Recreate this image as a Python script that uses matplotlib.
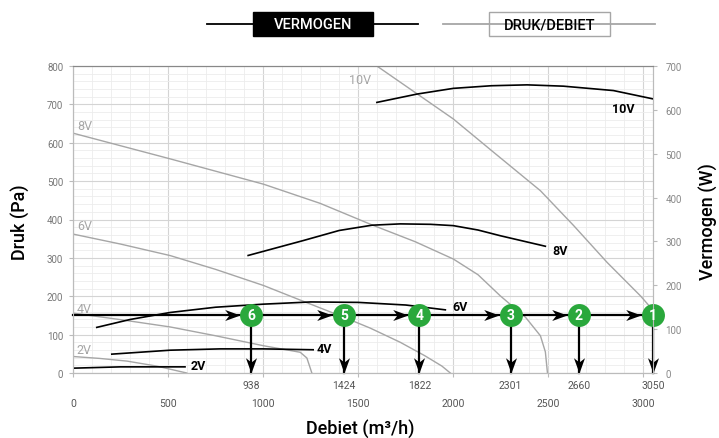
import matplotlib.pyplot as plt
from matplotlib.lines import Line2D
from matplotlib.markers import MarkerStyle
from matplotlib.patches import Rectangle
from matplotlib.path import Path
from matplotlib.transforms import Affine2D

plt.rcParams["font.family"] = ["Roboto", "DejaVu Sans"]

# pressure curves (Pa) per control voltage
druk_2v_x = [0, 140, 284, 440, 598]
druk_2v_y = [43, 38, 31, 18, 0]
druk_4v_x = [0, 250, 511, 750, 1002, 1195, 1230, 1256]
druk_4v_y = [156, 139, 120, 97, 71, 54, 39, 0]
druk_6v_x = [0, 250, 511, 750, 1002, 1195, 1421, 1563, 1721, 1850, 1940, 1984]
druk_6v_y = [362, 336, 306, 270, 228, 190, 146, 117, 80, 45, 18, 0]
druk_8v_x = [0, 511, 1002, 1300, 1572, 1800, 2000, 2130, 2247, 2380, 2458, 2484, 2495]
druk_8v_y = [625, 558, 492, 442, 386, 342, 297, 256, 201, 145, 97, 55, 0]
druk_10v_x = [1598, 2000, 2200, 2458, 2633, 2809, 2984, 3037, 3050]
druk_10v_y = [800, 662, 580, 475, 384, 288, 201, 171, 155]

# power curves (W)
verm_2v_x = [0, 250, 589]
verm_2v_y = [11, 14, 14]
verm_4v_x = [204, 511, 774, 1000, 1263]
verm_4v_y = [43, 52, 55, 55, 53]
verm_6v_x = [125, 300, 511, 750, 1002, 1250, 1500, 1750, 1958]
verm_6v_y = [104, 122, 138, 150, 157, 162, 161, 155, 144]
verm_8v_x = [921, 1211, 1400, 1572, 1721, 1880, 2000, 2130, 2247, 2484]
verm_8v_y = [268, 302, 325, 337, 340, 339, 336, 326, 313, 289]
verm_10v_x = [1598, 1809, 2000, 2200, 2388, 2579, 2842, 3050]
verm_10v_y = [617, 636, 649, 655, 657, 654, 644, 625]

# working points
punt_nummers = ["6", "5", "4", "3", "2", "1"]
punt_debiet = [938, 1424, 1822, 2301, 2660, 3050]
punt_druk = 150

druk_labels = ["2V", "4V", "6V", "8V", "10V"]
druk_label_pos = [(20, 60), (20, 168), (20, 385), (20, 645), (1450, 765)]
verm_label_pos = [(616, 16), (1279, 55), (1995, 152), (2521, 280), (2837, 602)]

GREY = "#a6a6a6"
GREEN = "#2aa83c"

fig = plt.figure(figsize=(7.19, 4.39), dpi=100)
ax = fig.add_axes([73 / 719, 65 / 439, 580 / 719, 307 / 439])
ax2 = ax.twinx()

ax.set_xlim(0, 3050)
ax.set_ylim(0, 800)
ax2.set_ylim(0, 700)

ax.set_xticks(range(0, 3001, 500))
ax.set_xticks(range(0, 3051, 100), minor=True)
ax.set_yticks(range(0, 801, 100))
ax.set_yticks(range(0, 801, 20), minor=True)
ax2.set_yticks(range(0, 701, 100))
ax.grid(which="major", color="#d4d4d4", lw=0.8)
ax.grid(which="minor", color="#ececec", lw=0.6)
ax.set_axisbelow(True)

ax.tick_params(axis="x", which="major", length=3, pad=15, labelsize=7.5,
               colors="#bbbbbb", labelcolor="#555555")
ax.tick_params(axis="y", which="major", length=3, pad=4, labelsize=7,
               colors="#bbbbbb", labelcolor="#777777")
ax.tick_params(which="minor", length=0)
ax2.tick_params(axis="y", length=3, pad=6, labelsize=7,
                colors="#bbbbbb", labelcolor="#888888")
for axis in (ax, ax2):
    for side in ("left", "right", "bottom"):
        axis.spines[side].set_color("#bbbbbb")
    axis.spines["top"].set_color("#888888")

druk_curves = [(druk_2v_x, druk_2v_y), (druk_4v_x, druk_4v_y),
               (druk_6v_x, druk_6v_y), (druk_8v_x, druk_8v_y),
               (druk_10v_x, druk_10v_y)]
for (xs, ys), label, (lx, ly) in zip(druk_curves, druk_labels, druk_label_pos):
    ax.plot(xs, ys, color=GREY, lw=1.0)
    ax.text(lx, ly, label, color=GREY, fontsize=9, ha="left", va="center")

verm_curves = [(verm_2v_x, verm_2v_y), (verm_4v_x, verm_4v_y),
               (verm_6v_x, verm_6v_y), (verm_8v_x, verm_8v_y),
               (verm_10v_x, verm_10v_y)]
for (xs, ys), label, (lx, ly) in zip(verm_curves, druk_labels, verm_label_pos):
    ax2.plot(xs, ys, color="black", lw=1.2)
    ax2.text(lx, ly, label, color="black", fontsize=9, fontweight="bold",
             ha="left", va="center")

# arrows and numbered working points, drawn on top in pressure units
head = Path([(0, 0), (-1, 0.36), (-0.72, 0), (-1, -0.36), (0, 0)],
            [Path.MOVETO, Path.LINETO, Path.LINETO, Path.LINETO, Path.CLOSEPOLY])
head_right = MarkerStyle(head)
head_down = MarkerStyle(head, transform=Affine2D().rotate_deg(-90))
data = ax.transData

ax2.plot([0, punt_debiet[-1]], [punt_druk, punt_druk], color="black", lw=1.6,
         transform=data, clip_on=False)
for x, nummer in zip(punt_debiet, punt_nummers):
    ax2.plot([x, x], [punt_druk, 0], color="black", lw=1.6, transform=data,
             clip_on=False)
    ax2.plot([x], [0], marker=head_down, ms=22, color="black", mew=0,
             transform=data, clip_on=False)
    ax2.plot([x - 62], [punt_druk], marker=head_right, ms=22, color="black",
             mew=0, transform=data, clip_on=False)
    ax2.plot([x], [punt_druk], marker="o", ms=16.5, color=GREEN, mew=0,
             transform=data, clip_on=False)
    ax2.text(x, punt_druk, nummer, color="white", fontsize=10, fontweight="bold",
             ha="center", va="center", transform=data)
    ax.text(x, -0.04, str(x), color="#555555", fontsize=7.5, ha="center",
            va="center", transform=ax.get_xaxis_transform())

fig.text(20 / 719, 1 - 222 / 439, "Druk (Pa)", rotation=90, fontsize=13,
         fontweight="medium", ha="center", va="center")
fig.text(708 / 719, 1 - 222 / 439, "Vermogen (W)", rotation=90, fontsize=13,
         fontweight="medium", ha="center", va="center")
fig.text(360 / 719, 1 - 430 / 439, "Debiet (m³/h)", fontsize=13,
         fontweight="medium", ha="center", va="center")

# legend at the top
legend_y = 1 - 25 / 439
fig.add_artist(Line2D([207 / 719, 418 / 719], [legend_y, legend_y],
                      color="black", lw=1.3, transform=fig.transFigure))
fig.add_artist(Rectangle((253 / 719, 1 - 37 / 439), 120 / 719, 24 / 439,
                         transform=fig.transFigure, fc="black", ec="black"))
fig.text(313 / 719, legend_y, "VERMOGEN", color="white", fontsize=10.5,
         fontweight="medium", ha="center", va="center")
fig.add_artist(Line2D([443 / 719, 655 / 719], [legend_y, legend_y],
                      color=GREY, lw=1.3, transform=fig.transFigure))
fig.add_artist(Rectangle((489 / 719, 1 - 37 / 439), 121 / 719, 24 / 439,
                         transform=fig.transFigure, fc="white", ec=GREY, lw=1))
fig.text(549.5 / 719, legend_y, "DRUK/DEBIET", color="black", fontsize=10.5,
         fontweight="medium", ha="center", va="center")

fig.savefig("out.png", dpi=100)
